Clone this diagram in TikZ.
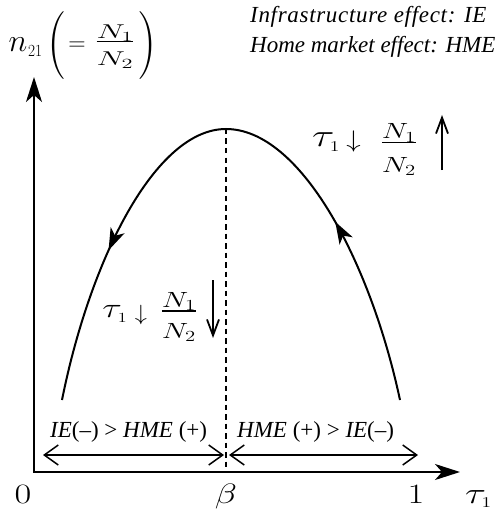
\RequirePackage{fix-cm}
\documentclass[tikz,border=0pt]{standalone}
\usepackage{amsmath}
\usepackage[no-math]{fontspec}
\setmainfont{Liberation Serif}
\usepackage{graphicx}
\usetikzlibrary{arrows.meta,decorations.markings}
\newcommand{\Mth}[3]{\scalebox{#1}[1]{\fontsize{#2}{#2}\selectfont$\displaystyle #3$}}
\newcommand{\TauOne}[2]{\scalebox{1.3}[1]{\fontsize{#1}{#1}\selectfont$\tau_{\mbox{\fontsize{#2}{#2}\selectfont$1$}}$}}
\newcommand{\FracN}[4]{\scalebox{#1}[1]{\fontsize{#2}{#2}\selectfont$\displaystyle\genfrac{}{}{1.6pt}{0}{\raisebox{-#3pt}[\height][0pt]{$N_1$}}{\raisebox{-#4pt}{$N_2$}}$}}
\begin{document}
\begin{tikzpicture}[x=1pt,y=-1pt]
\useasboundingbox (0,0) rectangle (497,513);
\tikzset{
 lbl/.style={inner sep=0pt, outer sep=0pt},
 axisline/.style={line width=2pt, line join=miter, {Stealth[length=25pt,width=16pt,inset=7pt]}-{Stealth[length=25pt,width=16pt,inset=7pt]}},
 curveline/.style={line width=2pt},
 guide/.style={line width=1.5pt, dash pattern=on 5.5pt off 4pt},
 span/.style={line width=1.5pt, {Straight Barb[length=14pt,width=20pt]}-{Straight Barb[length=14pt,width=20pt]}},
 vmove/.style={line width=1.8pt, -{Straight Barb[length=16pt,width=12pt]}},
 txt/.style={inner sep=0pt, font=\fontsize{23}{23}\selectfont, anchor=base west},
 legend/.style={inner sep=0pt, font=\fontsize{23}{23}\selectfont\itshape, anchor=base west},
 flowmark/.style={postaction={decorate}, decoration={markings, mark=at position #1 with {\arrow{Stealth[length=22pt,width=15pt,inset=6pt]}}}},
}
% key points
\coordinate (O) at (34,472);
\coordinate (Ytip) at (34,77);
\coordinate (Xtip) at (460,472);
\coordinate (P) at (226,129);
\coordinate (B) at (226,472);
\coordinate (L) at (62,400);
\coordinate (R) at (400,400);
\coordinate (D1) at (43,455);
\coordinate (D2) at (224,455);
\coordinate (D3) at (229,455);
\coordinate (D4) at (418,455);
\coordinate (U1) at (442,170);
\coordinate (U2) at (442,115);
\coordinate (D5) at (213,280);
\coordinate (D6) at (213,338);
% axes and curve
\draw[axisline] (Ytip) -- (O) -- (Xtip);
\draw[curveline, flowmark=0.53] (P) .. controls (155,129) and (90,260) .. (L);
\draw[curveline, flowmark=0.56] (R) .. controls (370,260) and (300,129) .. (P);
\draw[guide] (P) -- (B);
\draw[span] (D1) -- (D2);
\draw[span] (D3) -- (D4);
\draw[vmove] (U1) -- (U2);
\draw[vmove] (D5) -- (D6);
% texts
\node[legend] (ie) at (250,23) {\addfontfeature{LetterSpace=3}Infrastructure effect: IE};
\node[legend] (hme) at (250,53) {Home market effect: HME};
\node[txt] (lefttxt) at (50,437) {\textit{IE}(–) > \textit{HME} (+)};
\node[txt] (righttxt) at (237,437) {\textit{HME} (+) > \textit{IE}(–)};
% axis labels
\node[lbl, anchor=base] (zero) at (23,503) {\Mth{1.3}{28}{0}};
\node[lbl, anchor=base] (beta) at (226,503) {\Mth{1.3}{28}{\beta}};
\node[lbl, anchor=base] (one) at (416,503) {\Mth{1.3}{28}{1}};
\node[lbl, anchor=base west] (taux) at (465,503) {\TauOne{30}{15}};
% top-left label
\node[lbl, anchor=base] (nsym) at (18,52) {\Mth{1}{32}{n}};
\node[lbl, anchor=base west] (nidx) at (28,57) {\Mth{0.9}{17}{21}};
\node[lbl] (lpar) at (57,46) {\Mth{0.8}{68}{(}};
\node[lbl] (eqs) at (77,46.5) {\Mth{1}{24}{=}};
\node[lbl, anchor=base] (fracA) at (115,46.7) {\FracN{1.6}{20}{5.5}{5}};
\node[lbl] (rpar) at (147,46) {\Mth{0.8}{68}{)}};
% top-right label
\node[lbl] (tauA) at (326,142.5) {\TauOne{32}{15}};
\node[lbl] (downA) at (353.5,141) {\Mth{1.2}{24}{\downarrow}};
\node[lbl, anchor=base] (fracB) at (399,147.8) {\FracN{1.35}{22}{6}{9.4}};
% middle label
\node[lbl] (tauB) at (115,314) {\TauOne{28}{14}};
\node[lbl] (downB) at (141,315) {\Mth{1.1}{22}{\downarrow}};
\node[lbl, anchor=base] (fracC) at (179,316.5) {\FracN{1.35}{22}{6}{6.5}};
\end{tikzpicture}
\end{document}
